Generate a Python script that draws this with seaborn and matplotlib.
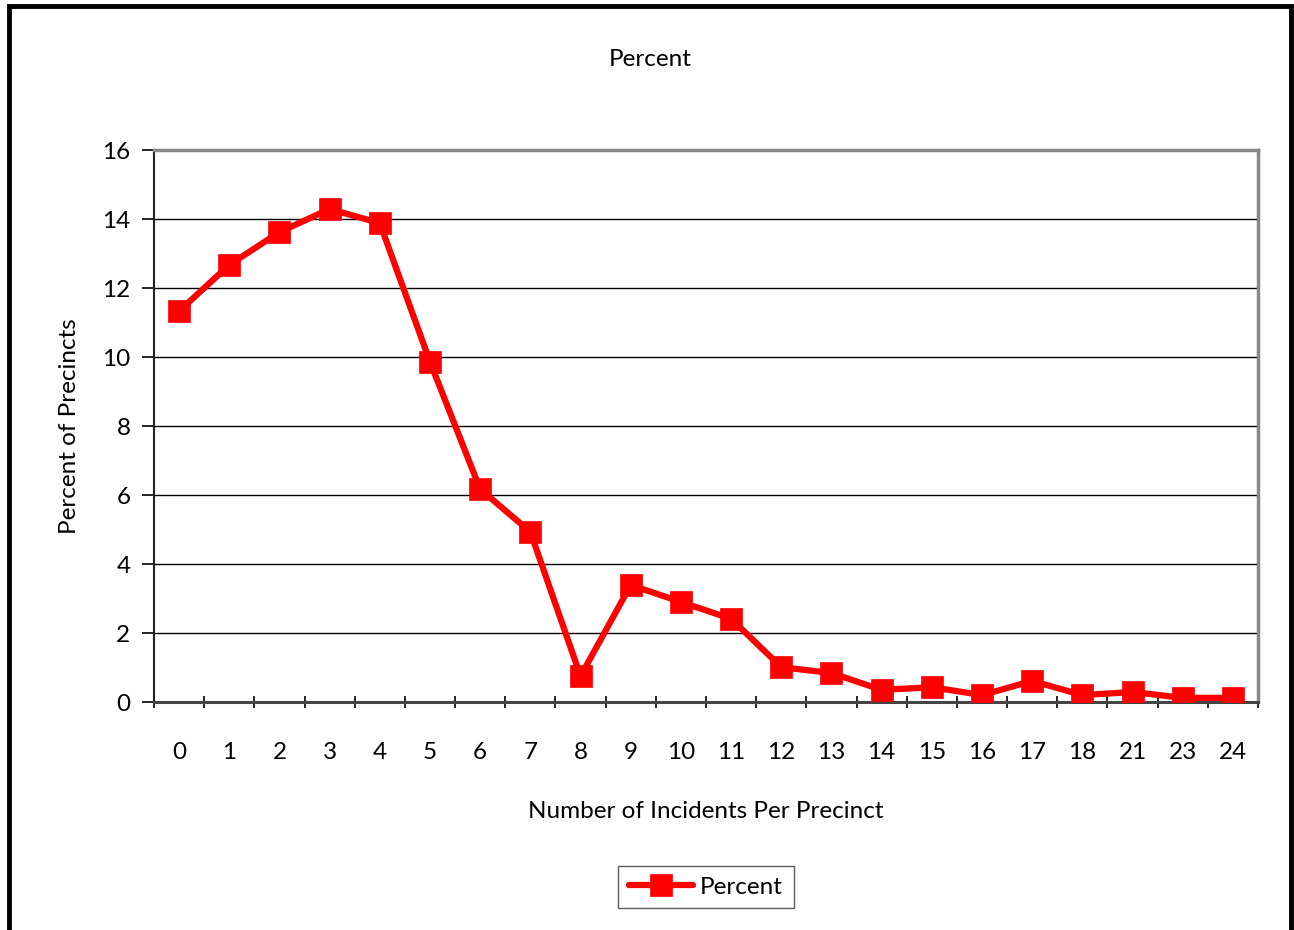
import matplotlib
matplotlib.use("Agg")
import matplotlib.pyplot as plt
from matplotlib.patches import Rectangle
from matplotlib.ticker import FixedLocator, MultipleLocator
import seaborn as sns
import pandas as pd

# Incidents per precinct (category labels) and share of precincts (%)
incidents = ["0", "1", "2", "3", "4", "5", "6", "7", "8", "9", "10", "11",
             "12", "13", "14", "15", "16", "17", "18", "21", "23", "24"]
percent = [11.33, 12.67, 13.62, 14.29, 13.88, 9.86, 6.17, 4.93, 0.75, 3.39,
           2.90, 2.41, 1.01, 0.84, 0.35, 0.43, 0.20, 0.61, 0.20, 0.29, 0.12, 0.12]

df = pd.DataFrame({"Incidents": incidents, "Percent": percent})

sns.set_style("white", {"text.color": "black", "axes.labelcolor": "black",
                        "xtick.color": "black", "ytick.color": "black"})
plt.rcParams["font.family"] = ["Lato", "DejaVu Sans"]

FS = 17.5
W, H = 1294, 930
fig = plt.figure(figsize=(W / 100, H / 100), dpi=100)
ax = fig.add_axes([154 / W, 1 - 702 / H, (1258 - 154) / W, (702 - 150) / H])

sns.pointplot(data=df, x="Incidents", y="Percent", ax=ax, color="#ff0000",
              markers="s", linestyles="-", linewidth=4.5, markersize=13,
              label="Percent", zorder=5)

n = len(incidents)
ax.set_xlim(-0.5, n - 0.5)
ax.set_ylim(0, 16)
ax.yaxis.set_major_locator(MultipleLocator(2))
ax.grid(axis="y", color="black", linewidth=1.0)
ax.grid(axis="x", visible=False)
ax.set_axisbelow(True)

# Category boundary ticks crossing the x axis
ax.xaxis.set_minor_locator(FixedLocator([i - 0.5 for i in range(n + 1)]))
ax.tick_params(axis="x", which="major", length=0, pad=29, labelsize=FS,
               labelcolor="black")
ax.tick_params(axis="x", which="minor", length=9, width=1.2, direction="inout",
               color="black", bottom=True)
ax.tick_params(axis="y", which="major", length=9, width=1.2, direction="out",
               color="black", left=True, labelsize=FS, pad=8, labelcolor="black")

for side, col, lw in [("top", "#888888", 2.5), ("right", "#888888", 2.5),
                      ("left", "#222222", 1.5), ("bottom", "#444444", 2.2)]:
    ax.spines[side].set_visible(True)
    ax.spines[side].set_color(col)
    ax.spines[side].set_linewidth(lw)

ax.set_xlabel("Number of Incidents Per Precinct", fontsize=FS, labelpad=27,
              color="black")
ax.set_ylabel("Percent of Precincts", fontsize=FS, labelpad=16, color="black")

fig.text(650 / W, 1 - 59 / H, "Percent", ha="center", va="center",
         fontsize=FS, color="black")

leg = ax.legend(loc="center", bbox_to_anchor=(0.5, (702 - 887) / (702 - 150)),
                frameon=True, fancybox=False, edgecolor="#333333", fontsize=FS,
                handlelength=2.6, borderpad=0.45, handletextpad=0.3)
for t in leg.get_texts():
    t.set_color("black")

# Outer frame around the chart
fig.patches.append(Rectangle((8.5 / W, -0.05), (1291 - 8.5) / W, 1.05 - 6.5 / H,
                             transform=fig.transFigure, fill=False,
                             edgecolor="black", linewidth=3.5))

fig.savefig("out.png", dpi=100)
